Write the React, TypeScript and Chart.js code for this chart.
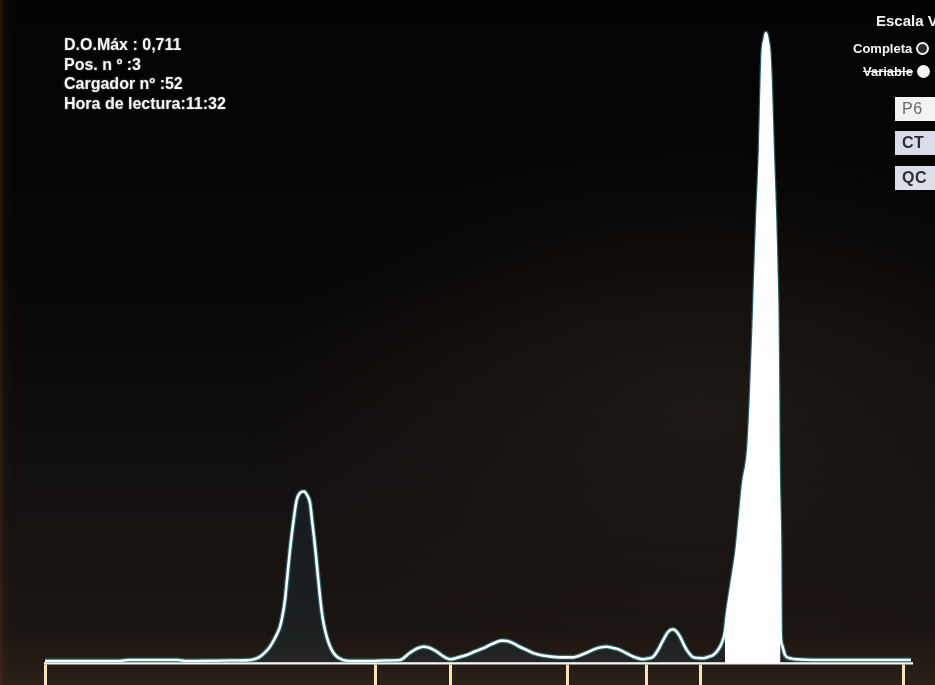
import React, { useEffect, useRef } from "react";
import { Chart, registerables } from "chart.js";

Chart.register(...registerables);

// Retention time (s) of each sampled point of the trace
const timeValues = [
  0, 15, 16.6, 26.6, 28, 37, 40.34, 42, 43, 44, 45, 46, 47, 47.6, 48, 48.5, 49, 49.6, 50.34, 51, 51.8,
  52.4, 53, 53.4, 53.8, 54.14, 54.46, 54.8, 55.14, 55.5, 56, 56.6, 57.34, 58.2, 59.6, 61, 65,
  68, 71, 73, 74.4, 75.66, 77, 78.34, 79.4, 80.34, 81, 82.6, 84.34, 86, 87.66, 89.4, 91.34, 92.4, 93.66, 95,
  96.34, 97.6, 99, 101, 103, 105.66, 107, 108.34, 110, 111, 112.34, 113.6, 115, 116.4, 117.66, 119.66, 120.6,
  121.66, 122.6, 123.66, 124.6, 125.54, 126.2, 127, 127.6, 128.34, 129.66, 131.66, 132.6, 133.66, 134.6, 135.34,
  136, 136.34, 137.34, 138.34, 139, 139.66, 140.66, 141.2, 141.8, 142, 142.46, 143, 143.34, 143.54, 143.9, 144.2,
  144.5, 144.86, 145.14, 145.54, 146, 146.34, 146.46, 146.6, 146.66, 147, 147.1, 147.4, 148, 149, 151, 157, 167,
  172, 173.2,
];

// Optical density
const absorbance = [
  0.0023, 0.0023, 0.0034, 0.0034, 0.0023, 0.0028, 0.003, 0.0045, 0.0071, 0.0119, 0.0184, 0.0282, 0.041, 0.0564,
  0.0711, 0.0993, 0.1275, 0.1558, 0.184, 0.1919, 0.1936,
  0.1896, 0.1806, 0.1614, 0.1422, 0.1242,
  0.105, 0.0858, 0.0677, 0.0519, 0.0372, 0.0248, 0.0147, 0.0079, 0.0034, 0.0023, 0.0023, 0.0028, 0.0034, 0.0116,
  0.0164, 0.0184, 0.0169, 0.0128, 0.0085, 0.0053, 0.0042, 0.0062, 0.009, 0.013, 0.0166, 0.0214, 0.0252, 0.0248,
  0.0222, 0.0181, 0.0147, 0.0113, 0.009, 0.0073, 0.0064, 0.0064, 0.0085, 0.0116, 0.0158, 0.0175, 0.0184, 0.0169,
  0.0147, 0.0107, 0.0071, 0.0042, 0.0051, 0.0071, 0.0147, 0.026, 0.035, 0.038, 0.0361, 0.0297, 0.0226, 0.0147,
  0.0064, 0.0053, 0.0068, 0.009, 0.0147, 0.0222, 0.0353, 0.0523, 0.09, 0.1275, 0.1651, 0.2028, 0.2404, 0.2968,
  0.3871, 0.4247, 0.5, 0.5756, 0.6505, 0.6881, 0.7032, 0.711, 0.7032, 0.6881, 0.6505, 0.5756, 0.5, 0.4247, 0.3871,
  0.2968, 0.2404, 0.1275, 0.0372, 0.0203, 0.009, 0.0053, 0.004, 0.0034, 0.0034, 0.0034, 0.0034,
];

// Fraction boundary marks on the time axis
const markerTimes = [0, 66, 81, 104.4, 120.2, 131, 171.6];

// Highlighted (filled) peak window
const highlightWindow = [136, 147.1];

const infoLines = ["D.O.Máx : 0,711", "Pos. n º :3", "Cargador nº :52", "Hora de lectura:11:32"];

const X_MAX = 173.2;
const Y_MAX = 0.7144;

export default function App() {
  const canvasRef = useRef<HTMLCanvasElement | null>(null);

  useEffect(() => {
    if (!canvasRef.current) return;
    const points = timeValues.map((t, i) => ({ x: t, y: absorbance[i] }));
    const highlight = points.filter((p) => p.x >= highlightWindow[0] && p.x <= highlightWindow[1]);

    const chart = new Chart(canvasRef.current, {
      type: "line",
      data: {
        datasets: [
          {
            data: highlight,
            borderColor: "#ffffff",
            backgroundColor: "#ffffff",
            borderWidth: 1,
            fill: "origin",
            pointRadius: 0,
            cubicInterpolationMode: "monotone",
            order: 0,
          },
          {
            data: points,
            borderColor: "#f6ffff",
            backgroundColor: "rgba(35,70,90,0.22)",
            borderWidth: 2.6,
            fill: "origin",
            pointRadius: 0,
            cubicInterpolationMode: "monotone",
            order: 1,
          },
          {
            data: points,
            borderColor: "rgba(70,190,200,0.45)",
            borderWidth: 5,
            fill: false,
            pointRadius: 0,
            cubicInterpolationMode: "monotone",
            order: 2,
          },
        ],
      },
      options: {
        animation: false,
        responsive: false,
        layout: { padding: { left: 45, right: 24, top: 30, bottom: 0 } },
        plugins: { legend: { display: false }, tooltip: { enabled: false }, title: { display: false } },
        scales: {
          x: {
            type: "linear",
            min: 0,
            max: X_MAX,
            afterBuildTicks: (axis: any) => {
              axis.ticks = markerTimes.map((v) => ({ value: v }));
            },
            ticks: { display: false },
            grid: {
              display: true,
              drawOnChartArea: false,
              drawTicks: true,
              tickLength: 22,
              color: "#f4e4b8",
              lineWidth: 3,
            },
            border: { display: true, color: "#f4f4ee", width: 2.5 },
          },
          y: {
            type: "linear",
            min: 0,
            max: Y_MAX,
            display: false,
          },
        },
      },
    });
    return () => chart.destroy();
  }, []);

  const radio = (filled: boolean) => (
    <span
      style={{
        display: "inline-block",
        width: 9,
        height: 9,
        borderRadius: "50%",
        background: filled ? "#f2f2f2" : "#2a2a2a",
        border: "2px solid #f2f2f2",
        marginLeft: 4,
        verticalAlign: "middle",
        position: "relative",
        top: -1,
      }}
    />
  );

  const boxStyle = (top: number, bg: string, color: string, bold: boolean): React.CSSProperties => ({
    position: "absolute",
    left: 895,
    top,
    width: 50,
    height: 24,
    background: bg,
    color,
    fontFamily: "'Liberation Sans', Arial, sans-serif",
    fontSize: 16,
    fontWeight: bold ? 700 : 400,
    lineHeight: "24px",
    paddingLeft: 7,
    boxSizing: "border-box",
    letterSpacing: 0.5,
  });

  return (
    <div
      style={{
        position: "fixed",
        left: 0,
        top: 0,
        width: 935,
        height: 685,
        overflow: "hidden",
        background:
          "linear-gradient(to right, rgba(80,45,25,0.45) 0px, rgba(50,30,18,0.2) 5px, rgba(0,0,0,0) 12px), radial-gradient(ellipse at 75% 60%, rgba(34,27,22,0.8) 0%, rgba(0,0,0,0) 45%), linear-gradient(to bottom, #030303 0%, #070605 40%, #131010 70%, #1b1511 92%, #2a2118 100%)",
      }}
    >
      <canvas ref={canvasRef} width={935} height={685} style={{ position: "absolute", left: 0, top: 0 }} />
      <div
        style={{
          position: "absolute",
          left: 64,
          top: 35,
          color: "#f6f6f6",
          fontFamily: "'Liberation Sans', Arial, sans-serif",
          fontWeight: 700,
          fontSize: 16,
          lineHeight: "19.7px",
          whiteSpace: "pre",
          textShadow: "0 0 2px rgba(255,255,255,0.4)",
        }}
      >
        {infoLines.map((l) => (
          <div key={l}>{l}</div>
        ))}
      </div>
      <div
        style={{
          position: "absolute",
          left: 876,
          top: 12,
          color: "#f6f6f6",
          fontFamily: "'Liberation Sans', Arial, sans-serif",
          fontWeight: 700,
          fontSize: 15,
          whiteSpace: "pre",
        }}
      >
        Escala Vertical
      </div>
      <div
        style={{
          position: "absolute",
          left: 853,
          top: 40,
          color: "#f6f6f6",
          fontFamily: "'Liberation Sans', Arial, sans-serif",
          fontWeight: 700,
          fontSize: 13,
          whiteSpace: "pre",
          lineHeight: "18px",
        }}
      >
        Completa{radio(false)}
      </div>
      <div
        style={{
          position: "absolute",
          left: 863,
          top: 63,
          color: "#f6f6f6",
          fontFamily: "'Liberation Sans', Arial, sans-serif",
          fontWeight: 700,
          fontSize: 13,
          whiteSpace: "pre",
          lineHeight: "18px",
        }}
      >
        <span style={{ textDecoration: "line-through" }}>Variable</span>
        {radio(true)}
      </div>
      <div style={boxStyle(97, "#f1f3f1", "#6a6a6a", false)}>P6</div>
      <div style={boxStyle(131, "#d9dde8", "#2e2e36", true)}>CT</div>
      <div style={boxStyle(166, "#dcdfe8", "#2e2e36", true)}>QC</div>
    </div>
  );
}
